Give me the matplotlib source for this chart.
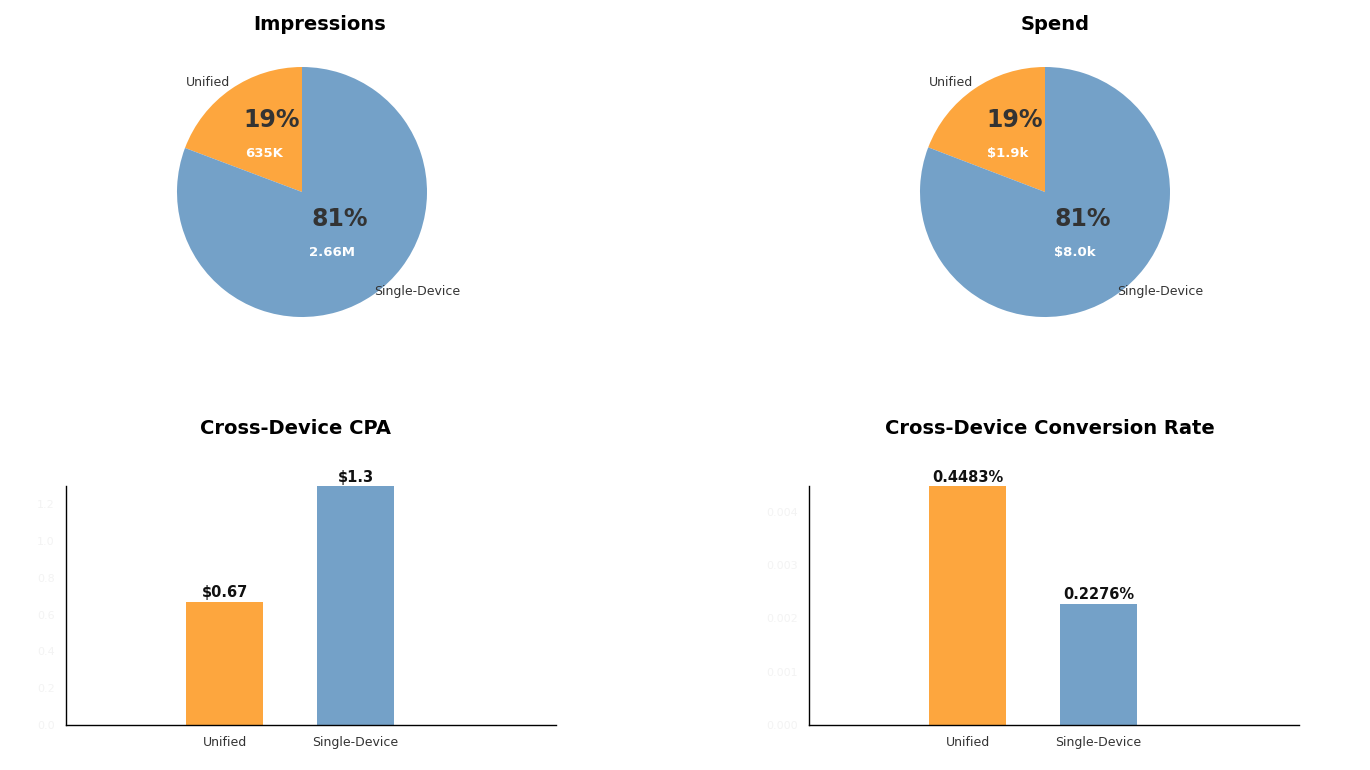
import numpy as np
import matplotlib
matplotlib.use("Agg")
import matplotlib.pyplot as plt

# data
categories = ["Unified", "Single-Device"]
impressions = [635e3, 2.66e6]
impressions_txt = ["635K", "2.66M"]
spend = [1.9e3, 8.0e3]
spend_txt = ["$1.9k", "$8.0k"]
cpa = [0.67, 1.3]
cpa_txt = ["$0.67", "$1.3"]
conv_rate = [0.4483, 0.2276]
conv_txt = ["0.4483%", "0.2276%"]

ORANGE = "#FDA63E"
BLUE = "#74A1C8"
colors = [ORANGE, BLUE]

W, H = 1370, 770
fig = plt.figure(figsize=(13.7, 7.7), dpi=100)
fig.patch.set_facecolor("white")


def px_axes(x0, y0, x1, y1):
    # pixel box (top-left origin) -> figure axes
    return fig.add_axes([x0 / W, 1 - y1 / H, (x1 - x0) / W, (y1 - y0) / H])


def draw_pie(cx, title, title_x, values, texts):
    ax = px_axes(cx - 125, 67, cx + 125, 317)
    ax.pie(values, colors=colors, startangle=90, counterclock=True,
           wedgeprops=dict(linewidth=0))
    ax.set_xlim(-1, 1)
    ax.set_ylim(-1, 1)
    ax.set_aspect("equal")
    total = sum(values)
    start = 90.0
    for v, t in zip(values, texts):
        frac = v / total
        mid = np.radians(start + frac * 360 / 2)
        r = 0.48
        x, y = r * np.cos(mid), r * np.sin(mid)
        ax.text(x + 0.03, y + 0.18, "%d%%" % round(frac * 100), ha="center",
                va="center", fontsize=17, fontweight="bold", color="#333333")
        ax.text(x - 0.03, y - 0.09, t, ha="center", va="center", fontsize=9.5,
                fontweight="bold", color="white")
        start += frac * 360
    # outside category labels
    ax.text(-0.75, 0.88, categories[0], ha="center", va="center",
            fontsize=9, color="#333333")
    ax.text(0.92, -0.80, categories[1], ha="center", va="center",
            fontsize=9, color="#333333")
    fig.text(title_x / W, 1 - 25 / H, title, ha="center", va="center",
             fontsize=14, fontweight="bold")


def draw_bar(x0, title, title_x, values, texts, ticks, ticklabels):
    ax = px_axes(x0, 486, x0 + 490, 725)
    pos = np.arange(len(categories))
    ax.bar(pos, values, width=0.59, color=colors)
    ax.set_xlim(-1.21, 2.53)
    ax.set_ylim(0, max(values))
    ax.set_xticks(pos)
    ax.set_xticklabels(categories, fontsize=9, color="#333333")
    ax.set_yticks(ticks)
    ax.set_yticklabels(ticklabels, fontsize=8, color="#f3f3f3")
    ax.tick_params(length=0, pad=8)
    for s in ["top", "right"]:
        ax.spines[s].set_visible(False)
    for s in ["left", "bottom"]:
        ax.spines[s].set_color("black")
        ax.spines[s].set_linewidth(1)
    for p, v, t in zip(pos, values, texts):
        ax.annotate(t, (p, v), xytext=(0, 1), textcoords="offset points",
                    ha="center", va="bottom", fontsize=10.5,
                    fontweight="bold", color="#111111", annotation_clip=False)
    fig.text(title_x / W, 1 - 429 / H, title, ha="center", va="center",
             fontsize=14, fontweight="bold")


draw_pie(302, "Impressions", 320, impressions, impressions_txt)
draw_pie(1045, "Spend", 1055, spend, spend_txt)

draw_bar(66, "Cross-Device CPA", 295, cpa, cpa_txt,
         [0, 0.2, 0.4, 0.6, 0.8, 1.0, 1.2],
         ["0.0", "0.2", "0.4", "0.6", "0.8", "1.0", "1.2"])
draw_bar(809, "Cross-Device Conversion Rate", 1050, conv_rate, conv_txt,
         [0, 0.1, 0.2, 0.3, 0.4],
         ["0.000", "0.001", "0.002", "0.003", "0.004"])

fig.savefig("out.png", dpi=100, facecolor="white")
